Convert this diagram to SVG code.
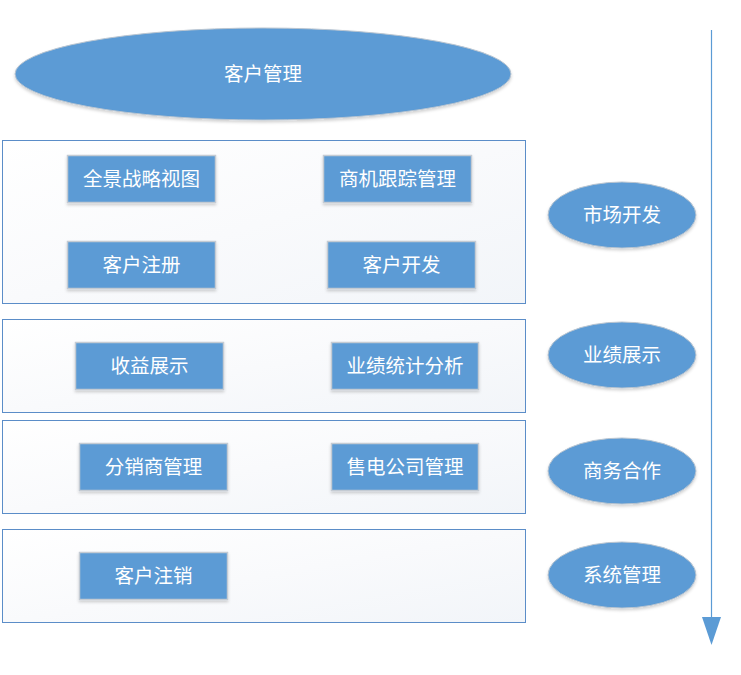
<svg xmlns="http://www.w3.org/2000/svg" width="741" height="675" viewBox="0 0 741 675">
<defs>
<linearGradient id="pg" x1="0" y1="0" x2="1" y2="1">
<stop offset="0" stop-color="#ffffff"/>
<stop offset="0.5" stop-color="#f9fafc"/>
<stop offset="1" stop-color="#f2f5f9"/>
</linearGradient>
<filter id="sh" x="-10%" y="-10%" width="120%" height="130%">
<feDropShadow dx="0" dy="2" stdDeviation="1.5" flood-color="#000" flood-opacity="0.18"/>
</filter>
</defs>
<style>
.panel{fill:url(#pg);stroke:#5B8DC8;stroke-width:1}
.box{fill:#5B9BD5;stroke:#C4CBD3;stroke-width:1.5;filter:url(#sh)}
.ell{fill:#5B9BD5;stroke:#B8C4D0;stroke-width:1;filter:url(#sh)}
.t{fill:#ffffff;font-family:"Noto Sans CJK SC","Noto Sans",sans-serif;font-size:19.5px;text-anchor:middle;dominant-baseline:central}
</style>
<rect width="741" height="675" fill="#ffffff"/>
<g id="panels">
<rect id="panel1" class="panel" x="2.5" y="140.5" width="523" height="163"/>
<rect id="panel2" class="panel" x="2.5" y="319.5" width="523" height="93"/>
<rect id="panel3" class="panel" x="2.5" y="420.5" width="523" height="93"/>
<rect id="panel4" class="panel" x="2.5" y="529.5" width="523" height="93"/>
</g>
<g id="connectors">
<line x1="711.5" y1="30" x2="711.5" y2="618" stroke="#5B9BD5" stroke-width="1.2"/>
<path d="M702 617 L721 617 L711.5 645 Z" fill="#5B9BD5"/>
</g>
<g id="n-root"><ellipse class="ell" cx="263" cy="74" rx="248" ry="46"/><text class="t" x="263" y="72.5">客户管理</text></g>
<g id="n1"><rect class="box" x="67.5" y="155.5" width="148" height="47"/><text class="t" x="141.5" y="177.5">全景战略视图</text></g>
<g id="n2"><rect class="box" x="323.5" y="155.5" width="148" height="47"/><text class="t" x="397.5" y="177.5">商机跟踪管理</text></g>
<g id="n3"><rect class="box" x="67.5" y="241.5" width="148" height="47"/><text class="t" x="141.5" y="263.5">客户注册</text></g>
<g id="n4"><rect class="box" x="327.5" y="241.5" width="148" height="47"/><text class="t" x="401.5" y="263.5">客户开发</text></g>
<g id="n5"><rect class="box" x="75.5" y="342.5" width="148" height="47"/><text class="t" x="149.5" y="364.5">收益展示</text></g>
<g id="n6"><rect class="box" x="331.5" y="342.5" width="147" height="47"/><text class="t" x="405" y="364.5">业绩统计分析</text></g>
<g id="n7"><rect class="box" x="79.5" y="443.5" width="148" height="47"/><text class="t" x="153.5" y="465.5">分销商管理</text></g>
<g id="n8"><rect class="box" x="331.5" y="443.5" width="147" height="47"/><text class="t" x="405" y="465.5">售电公司管理</text></g>
<g id="n9"><rect class="box" x="79.5" y="552.5" width="148" height="47"/><text class="t" x="153.5" y="574.5">客户注销</text></g>
<g id="e1"><ellipse class="ell" cx="622" cy="215" rx="74" ry="33"/><text class="t" x="622" y="213.5">市场开发</text></g>
<g id="e2"><ellipse class="ell" cx="622" cy="355" rx="74" ry="33"/><text class="t" x="622" y="353.5">业绩展示</text></g>
<g id="e3"><ellipse class="ell" cx="622" cy="471" rx="74" ry="33"/><text class="t" x="622" y="469.5">商务合作</text></g>
<g id="e4"><ellipse class="ell" cx="622" cy="575" rx="74" ry="33"/><text class="t" x="622" y="573.5">系统管理</text></g>
</svg>
